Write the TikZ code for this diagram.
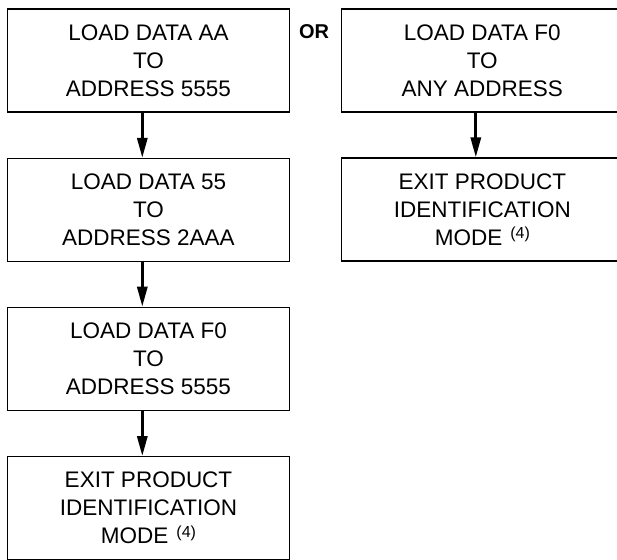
\documentclass[tikz,border=0pt]{standalone}
\usepackage{fontspec}
\setmainfont{Liberation Sans}
\usetikzlibrary{arrows.meta}
\newcommand\fnref{\hspace{8pt}\raisebox{6.5pt}{\fontsize{16}{16}\selectfont(4)}}
\tikzset{
  stepbox/.style={draw=black, line width=1.2pt, minimum width=281.5pt, minimum height=103pt,
    inner sep=0pt, align=center, font=\fontsize{22.5}{28}\selectfont},
  arr/.style={line width=3pt, -{Triangle[length=20pt,width=10pt]}},
  ortext/.style={font=\fontsize{20}{20}\selectfont\bfseries, inner sep=0pt}
}
\begin{document}
\begin{tikzpicture}[x=1pt,y=-1pt]
\useasboundingbox (0,0) rectangle (617,559);
\clip (0,0) rectangle (617,559);
\node[stepbox] (a) at (148.5,60.5) {LOAD DATA AA\\TO\\ADDRESS 5555};
\node[stepbox] (b) at (148.5,210) {LOAD DATA 55\\TO\\ADDRESS 2AAA};
\node[stepbox] (c) at (148.5,358.8) {LOAD DATA F0\\TO\\ADDRESS 5555};
\node[stepbox] (d) at (148.5,508.2) {EXIT PRODUCT\\IDENTIFICATION\\MODE\fnref};
\node[stepbox] (e) at (482.3,60.5) {LOAD DATA F0\\TO\\ANY ADDRESS};
\node[stepbox] (f) at (482.3,209.5) {EXIT PRODUCT\\IDENTIFICATION\\MODE\fnref};
\node[ortext, anchor=base] (or) at (314,39) {OR};
\coordinate (la) at (142.3,0);
\coordinate (ra) at (475.8,0);
\draw[arr] (a.south -| la) -- (b.north -| la);
\draw[arr] (b.south -| la) -- (c.north -| la);
\draw[arr] (c.south -| la) -- (d.north -| la);
\draw[arr] (e.south -| ra) -- (f.north -| ra);
\end{tikzpicture}
\end{document}
